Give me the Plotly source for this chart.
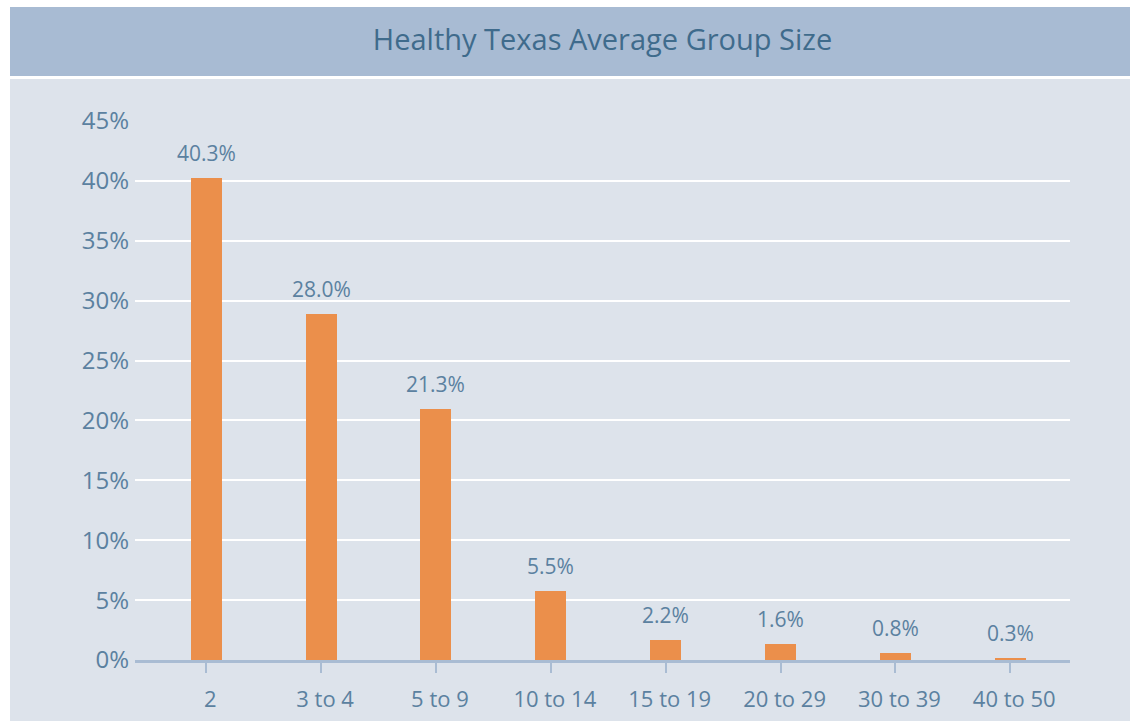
import plotly.graph_objects as go

categories = ["2", "3 to 4", "5 to 9", "10 to 14", "15 to 19", "20 to 29", "30 to 39", "40 to 50"]
bar_values = [40.2, 28.85, 20.95, 5.75, 1.7, 1.3, 0.6, 0.2]
value_labels = ["40.3%", "28.0%", "21.3%", "5.5%", "2.2%", "1.6%", "0.8%", "0.3%"]
y_ticks = [0, 5, 10, 15, 20, 25, 30, 35, 40, 45]
y_tick_text = [f"{v}%" for v in y_ticks]

TEXT = "#5b81a0"
TITLE = "#3f6b8c"
BAND = "#a8bbd3"
PANEL = "#dde3eb"
AXIS = "#a9bcd3"
BAR = "#eb8f4b"

W, H = 1136, 721
L, T = 135, 121
R = W - 1070
B = H - 660
pw, ph = W - L - R, H - T - B

def px_x(px):
    return (px - L) / pw

def px_y(py):
    return (H - B - py) / ph

fig = go.Figure()
fig.add_trace(go.Bar(
    x=categories, y=bar_values, marker=dict(color=BAR, line=dict(width=0)),
    width=0.27, hoverinfo="skip",
))

for i, (v, t) in enumerate(zip(bar_values, value_labels)):
    fig.add_annotation(x=i, y=v, text=t, showarrow=False, yanchor="bottom",
                       yshift=9, font=dict(family="Open Sans", size=21, color=TEXT))

fig.update_layout(
    width=W, height=H,
    margin=dict(l=L, r=R, t=T, b=B, autoexpand=False),
    paper_bgcolor="white", plot_bgcolor="rgba(0,0,0,0)",
    showlegend=False,
    title=dict(text="Healthy Texas Average Group Size", x=0.5, xanchor="center",
               xref="paper",
               y=1 - 40 / H, yanchor="middle",
               font=dict(family="Open Sans", size=29, color=TITLE)),
    shapes=[
        dict(type="rect", xref="paper", yref="paper", layer="below",
             x0=px_x(10), x1=px_x(1130), y0=px_y(7), y1=px_y(76),
             fillcolor=BAND, line=dict(width=0)),
        dict(type="rect", xref="paper", yref="paper", layer="below",
             x0=px_x(10), x1=px_x(1130), y0=px_y(721), y1=px_y(79),
             fillcolor=PANEL, line=dict(width=0)),
    ],
    xaxis=dict(type="category", range=[-0.62, 7.52], showgrid=False, zeroline=False,
               showline=True, linecolor=AXIS, linewidth=3,
               ticks="outside", ticklen=10, tickwidth=2, tickcolor=AXIS,
               ticklabelstandoff=8, ticklabelshift=4, automargin=False,
               tickfont=dict(family="Open Sans", size=22, color=TEXT)),
    yaxis=dict(range=[0, 45], tickvals=y_ticks, ticktext=y_tick_text,
               showgrid=True, gridcolor="white", gridwidth=2, zeroline=False,
               showline=False, ticks="", ticklabelstandoff=5, automargin=False,
               tickfont=dict(family="Open Sans", size=24, color=TEXT)),
    bargap=0,
)

fig.write_html(
    "out.html",
    config={"displayModeBar": False},
    post_script="document.body.style.margin='0';document.body.style.overflow='hidden';",
)
